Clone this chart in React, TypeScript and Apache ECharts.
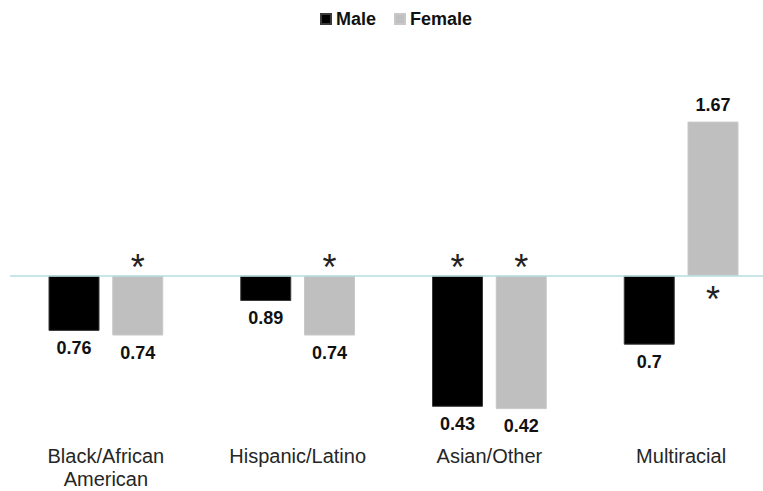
import React, { useEffect, useRef } from "react";
import * as echarts from "echarts";

// Odds ratios by race/ethnicity, split by sex (reference group = 1)
const categories = ["Black/African\nAmerican", "Hispanic/Latino", "Asian/Other", "Multiracial"];
const maleOdds = [0.76, 0.89, 0.43, 0.7];
const femaleOdds = [0.74, 0.74, 0.42, 1.67];
// Statistically significant results are flagged with an asterisk
const maleSignificant = [false, false, true, false];
const femaleSignificant = [true, true, true, true];

const BASELINE = 1;
const FONT = "'Liberation Sans', Arial, sans-serif";

function starMarks(odds: number[], flags: boolean[]) {
  const out: any[] = [];
  odds.forEach((v, i) => {
    if (!flags[i]) return;
    const below = v > BASELINE; // star sits on the opposite side of the bar
    out.push({
      coord: [i, 0],
      label: { offset: [0, below ? 24 : -8] },
    });
  });
  return out;
}

function makeSeries(name: string, odds: number[], flags: boolean[], color: string, border: string) {
  return {
    name,
    type: "bar",
    barWidth: 51,
    barGap: "25%",
    itemStyle: { color, borderColor: border, borderWidth: 1 },
    data: odds.map((v) => ({
      value: v - BASELINE,
      label: { position: v >= BASELINE ? "top" : "bottom" },
    })),
    label: {
      show: true,
      distance: 8,
      fontFamily: FONT,
      fontWeight: "bold",
      fontSize: 18,
      color: "#111",
      formatter: (p: any) => String(odds[p.dataIndex]),
    },
    markPoint: {
      silent: true,
      symbol: "circle",
      symbolSize: 1,
      itemStyle: { color: "rgba(0,0,0,0)" },
      label: {
        show: true,
        position: "inside",
        formatter: "*",
        fontFamily: FONT,
        fontSize: 36,
        color: "#222",
      },
      data: starMarks(odds, flags),
    },
  };
}

export default function App() {
  const ref = useRef<HTMLDivElement>(null);

  useEffect(() => {
    if (!ref.current) return;
    const chart = echarts.init(ref.current, null, { renderer: "svg" });
    const male = makeSeries("Male", maleOdds, maleSignificant, "#000000", "#3a3a3a");
    const female = makeSeries("Female", femaleOdds, femaleSignificant, "#bfbfbf", "#c8c8c8");
    (male as any).markLine = {
      silent: true,
      symbol: "none",
      label: { show: false },
      lineStyle: { color: "#b9dde0", type: "solid", width: 1.5 },
      data: [{ yAxis: 0 }],
    };
    chart.setOption({
      animation: false,
      backgroundColor: "#ffffff",
      legend: {
        top: 5,
        left: 315,
        icon: "rect",
        itemWidth: 10,
        itemHeight: 10,
        itemGap: 18,
        textStyle: { fontFamily: FONT, fontWeight: "bold", fontSize: 18, color: "#111" },
        data: ["Male", "Female"],
      },
      grid: {
        left: 10,
        width: 767,
        top: 91.7,
        height: 345,
        containLabel: false,
        outerBoundsMode: "none",
      },
      xAxis: {
        type: "category",
        data: categories,
        axisLine: { show: false, onZero: false },
        axisTick: { show: false },
        axisLabel: {
          margin: 8,
          fontFamily: FONT,
          fontSize: 20,
          lineHeight: 23,
          color: "#262626",
        },
      },
      yAxis: {
        type: "value",
        min: -0.7,
        max: 0.8,
        show: false,
        splitLine: { show: false },
      },
      series: [male, female],
    });
    return () => chart.dispose();
  }, []);

  return <div ref={ref} style={{ width: 763, height: 491, position: "absolute", left: 0, top: 0 }} />;
}
